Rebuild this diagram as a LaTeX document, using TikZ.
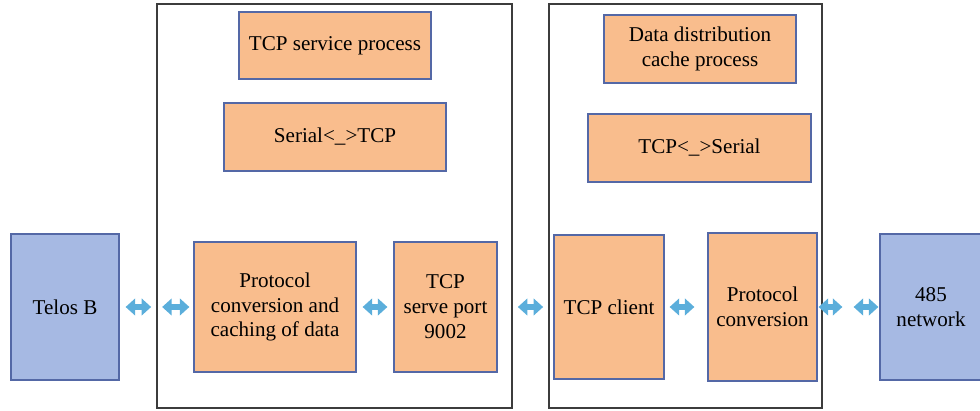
\documentclass[tikz,border=0pt]{standalone}
\usepackage{fontspec}
\setmainfont{Liberation Serif}
\usetikzlibrary{arrows.meta}

\definecolor{procfill}{HTML}{F9BD8D}
\definecolor{devfill}{HTML}{A6B9E3}
\definecolor{edgeblue}{HTML}{5468A6}
\definecolor{linkblue}{HTML}{5BAEDB}
\definecolor{framegray}{HTML}{3C3C3C}

\tikzset{
  proc/.style={draw=edgeblue,fill=procfill,line width=0.7pt,align=center,inner sep=2pt},
  dev/.style={draw=edgeblue,fill=devfill,line width=0.7pt,align=center,inner sep=2pt},
  frame/.style={draw=framegray,line width=1pt},
  link/.style={draw=linkblue,line width=0.11cm,{Triangle[width=0.33cm,length=0.19cm]}-{Triangle[width=0.33cm,length=0.19cm]}}
}

\begin{document}
\begin{tikzpicture}[x=0.02cm,y=-0.02cm,font=\fontsize{12}{14.2}\selectfont]

\useasboundingbox (0,0) rectangle (980,411);

% the two hosts
\node[frame,minimum width=7.1cm,minimum height=8.08cm] (hostL) at (334.5,206) {};
\node[frame,minimum width=5.46cm,minimum height=8.08cm] (hostR) at (685.5,206) {};

% end devices
\node[dev,minimum width=2.16cm,minimum height=2.92cm] (telos) at (65,307) {Telos B};
\node[dev,minimum width=2.04cm,minimum height=2.92cm] (net) at (931,307) {485\\network};

% left host
\node[proc,minimum width=3.84cm,minimum height=1.34cm] (tcpsrv) at (335,45.5) {TCP service process};
\node[proc,minimum width=4.44cm,minimum height=1.36cm] (sertcp) at (335,137) {Serial<\_>TCP};
\node[proc,minimum width=3.24cm,minimum height=2.6cm] (conv) at (275,307) {Protocol\\conversion and\\caching of data};
\node[proc,minimum width=2.06cm,minimum height=2.6cm] (port) at (445.5,307) {TCP\\serve port\\9002};

% right host
\node[proc,minimum width=3.84cm,minimum height=1.36cm] (cache) at (700,49) {Data distribution\\cache process};
\node[proc,minimum width=4.46cm,minimum height=1.36cm] (tcpser) at (699.5,148) {TCP<\_>Serial};
\node[proc,minimum width=2.2cm,minimum height=2.88cm] (client) at (609,307) {TCP client};
\node[proc,minimum width=2.18cm,minimum height=2.96cm] (convR) at (762.5,307) {Protocol\\conversion};

% links
\draw[link,shorten <=0.12cm,shorten >=0.1cm] (telos.east) -- (telos.east -| hostL.west);
\draw[link,shorten <=0.12cm,shorten >=0.08cm] (telos.east -| hostL.west) -- (conv.west);
\draw[link,shorten <=0.12cm,shorten >=0.12cm] (conv.east) -- (port.west);
\draw[link,shorten <=0.1cm,shorten >=0.1cm] (port.east -| hostL.east) -- (port.east -| hostR.west);
\draw[link,shorten <=0.1cm,shorten >=0.26cm] (client.east) -- (convR.west);
\draw[link,shorten <=0.02cm,shorten >=0.74cm] (convR.east) -- (net.west);
\draw[link,shorten <=0.72cm,shorten >=0.02cm] (convR.east) -- (net.west);

\end{tikzpicture}
\end{document}
